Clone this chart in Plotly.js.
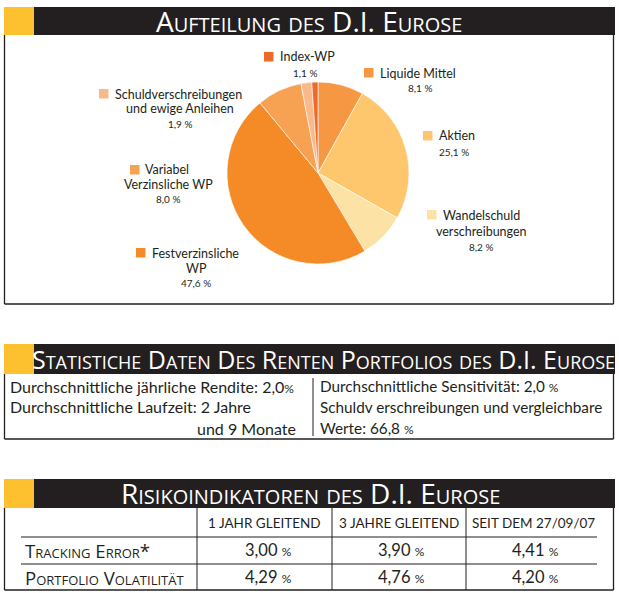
<!DOCTYPE html>
<html>
<head>
<meta charset="utf-8">
<script src="https://cdn.plot.ly/plotly-3.0.1.min.js"></script>
<style>html,body{margin:0;padding:0;background:#fff;}#chart{width:619px;height:593px;}</style>
</head>
<body>
<div id="chart"></div>
<script>
// ---- data ----
const pieLabels = ['Liquide Mittel','Aktien','Wandelschuldverschreibungen','Festverzinsliche WP','Variabel Verzinsliche WP','Schuldverschreibungen und ewige Anleihen','Index-WP'];
const pieLabelLines = [['Liquide Mittel'],['Aktien'],['Wandelschuld','verschreibungen'],['Festverzinsliche','WP'],['Variabel','Verzinsliche WP'],['Schuldverschreibungen','und ewige Anleihen'],['Index-WP']];
const pieValues = [8.1, 25.1, 8.2, 47.6, 8.0, 1.9, 1.1];
const pieColors = ['#F59743','#FEC76D','#FDE2A6','#F58B26','#F7A252','#F9B98A','#EE6A2B'];

const titles = ['Aufteilung des D.I. Eurose','Statistiche Daten Des Renten Portfolios des D.I. Eurose','Risikoindikatoren des D.I. Eurose'];

const statLeft = ['Durchschnittliche jährliche Rendite: ','Durchschnittliche Laufzeit: '];
const rendite = '2,0';
const laufzeitJahre = 2;
const laufzeitMonate = 9;
const sensitivitaet = '2,0';
const anteilWerte = '66,8';

const riskColumns = ['1 Jahr gleitend','3 Jahre gleitend','seit dem 27/09/07'];
const riskRows = ['Tracking Error*','Portfolio Volatilität'];
const trackingError = [3.00, 3.90, 4.41];
const volatility = [4.29, 4.76, 4.20];

// ---- helpers ----
const W = 619, H = 593;
const X = v => v / W;
const Y = v => 1 - v / H;
const DARK = '#231F20', GOLD = '#FDC130';
const fmt = v => v.toFixed(2).replace('.', ',');
const pct = s => s + ' <span style="font-size:12px">%</span>';

const shapes = [];
const annotations = [];
function rect(x0, y0, x1, y1, color) {
  shapes.push({type:'rect', xref:'paper', yref:'paper', x0:X(x0), x1:X(x1), y0:Y(y1), y1:Y(y0), fillcolor:color, line:{width:0}, layer:'above'});
}
function line(x0, y0, x1, y1, w) {
  shapes.push({type:'line', xref:'paper', yref:'paper', x0:X(x0), x1:X(x1), y0:Y(y0), y1:Y(y1), line:{color:DARK, width:w||1.3}, layer:'above'});
}
function text(t, x, y, opts) {
  opts = opts || {};
  annotations.push({text:t, x:X(x), y:Y(y), xref:'paper', yref:'paper', showarrow:false,
    xanchor:opts.xa||'left', yanchor:'middle',
    font:Object.assign({family:'Lato, "Open Sans", sans-serif', size:12, color:'#231F20'}, opts.font||{})});
}

// headers
const headerY = [[7,35],[344,374],[479,508]];
headerY.forEach((hy, i) => {
  rect(4, hy[0], 34, hy[1], GOLD);
  rect(34, hy[0], 615, hy[1], DARK);
});
const hf = {color:'#fff', variant:'small-caps', family:'"Open Sans", Lato, sans-serif'};
text(titles[0], 308.5, 21, {xa:'center', font:Object.assign({size:28}, hf)});
text(titles[1], 323.5, 359, {xa:'center', font:Object.assign({size:25}, hf)});
text(titles[2], 310.5, 493.5, {xa:'center', font:Object.assign({size:28}, hf)});

// box 1
line(4.5, 35, 4.5, 304); line(613.5, 35, 613.5, 304); line(4.5, 304, 613.5, 304);
// box 2
line(4.5, 374, 4.5, 439); line(613.5, 374, 613.5, 439); line(4.5, 439, 613.5, 439);
line(313, 378, 313, 436, 1);
// box 3
line(4.5, 508, 4.5, 590); line(613.5, 508, 613.5, 590); line(4.5, 590, 613.5, 590);
[197, 332, 466].forEach(x => line(x, 508, x, 590, 1));
[537, 564].forEach(y => line(21, y, 597, y, 1));

// pie labels (layout positions)
const labPos = [
  {sq:[364,68], tx:378, ty:73, cx:420, ly:[], py:88},
  {sq:[423,131], tx:437, ty:136, cx:454, ly:[], py:152},
  {sq:[427,210], tx:441, ty:215, cx:481, ly:[231], py:247},
  {sq:[136,248], tx:150, ty:253, cx:196, ly:[268], py:283},
  {sq:[130,165], tx:143, ty:169, cx:168, ly:[184], py:199},
  {sq:[99,89], tx:113, ty:94, cx:180, ly:[108], py:124},
  {sq:[264,52], tx:278, ty:57, cx:305, ly:[], py:73}
];
pieLabelLines.forEach((lines, i) => {
  const p = labPos[i];
  rect(p.sq[0], p.sq[1], p.sq[0] + 9.5, p.sq[1] + 9.5, pieColors[i]);
  text(lines[0], p.tx, p.ty, {font:{size:12.5}});
  lines.slice(1).forEach((l, j) => text(l, p.cx, p.ly[j], {xa:'center', font:{size:12.5}}));
  text(pieValues[i].toFixed(1).replace('.', ',') + ' %', p.cx, p.py, {xa:'center', font:{size:10}});
});

// statistics table
const tf = {size:16, family:'Lato, sans-serif'};
const tf2 = {size:15.3, family:'Lato, sans-serif'};
text(statLeft[0] + rendite + '<span style="font-size:12px">%</span>', 8, 386, {font:tf});
text(statLeft[1] + laufzeitJahre + ' Jahre', 8, 407, {font:tf});
text('und ' + laufzeitMonate + ' Monate', 298, 428, {xa:'right', font:tf});
text('Durchschnittliche Sensitivität: ' + sensitivitaet + ' <span style="font-size:12px">%</span>', 318, 386, {font:tf2});
text('Schuldv erschreibungen und vergleichbare', 318, 407, {font:tf2});
text('Werte: ' + anteilWerte + ' <span style="font-size:12px">%</span>', 318, 428, {font:tf2});

// risk table
const colCx = [264.5, 399, 533];
const valCx = [268, 401, 535];
riskColumns.forEach((c, i) => text(c.toUpperCase(), colCx[i], 523, {xa:'center', font:{size:13.5}}));
riskRows.forEach((r, i) => text(r, 23, 550 + i * 27, {font:{size:18.6, variant:'small-caps', family:'"Open Sans", Lato, sans-serif'}}));
trackingError.forEach((v, i) => text(pct(fmt(v)), valCx[i], 550, {xa:'center', font:{size:16.5}}));
volatility.forEach((v, i) => text(pct(fmt(v)), valCx[i], 577, {xa:'center', font:{size:16.5}}));

const trace = {
  type:'pie', labels:pieLabels, values:pieValues, sort:false, direction:'clockwise', rotation:0,
  marker:{colors:pieColors, line:{color:'#ffffff', width:0.6}},
  textinfo:'none', hoverinfo:'label+value', showlegend:false,
  domain:{x:[X(227), X(409)], y:[Y(264), Y(82)]}
};

Plotly.newPlot('chart', [trace], {
  width:W, height:H, margin:{l:0, r:0, t:0, b:0},
  paper_bgcolor:'#fff', plot_bgcolor:'#fff', showlegend:false,
  shapes:shapes, annotations:annotations
}, {staticPlot:true, displayModeBar:false});
</script>
</body>
</html>
